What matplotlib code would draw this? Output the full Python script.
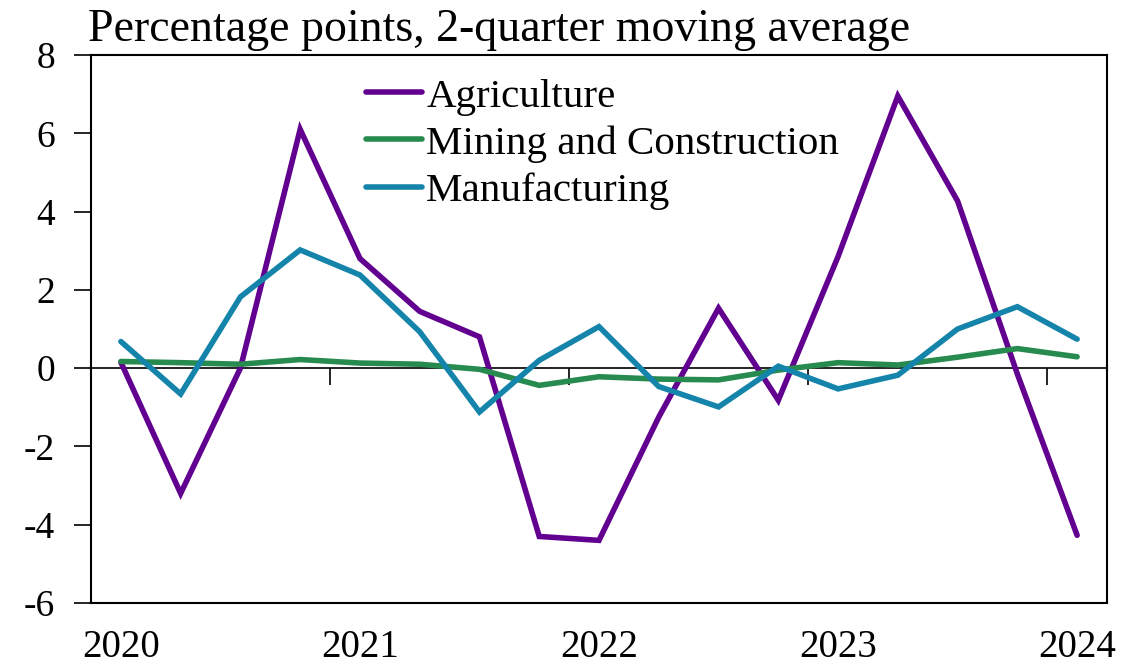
import matplotlib.pyplot as plt
import numpy as np

# quarterly, 2020 Q1 .. 2024 Q1
quarters = ['2020 Q1', '2020 Q2', '2020 Q3', '2020 Q4',
            '2021 Q1', '2021 Q2', '2021 Q3', '2021 Q4',
            '2022 Q1', '2022 Q2', '2022 Q3', '2022 Q4',
            '2023 Q1', '2023 Q2', '2023 Q3', '2023 Q4',
            '2024 Q1']
year_labels = ['2020', '2021', '2022', '2023', '2024']

agriculture = [0.15, -3.2, 0.0, 6.1, 2.8, 1.45, 0.8, -4.3, -4.4,
               -1.25, 1.53, -0.82, 2.85, 6.95, 4.27, -0.15, -4.27]
mining = [0.17, 0.14, 0.1, 0.22, 0.13, 0.1, -0.03, -0.44, -0.22,
          -0.28, -0.3, -0.05, 0.14, 0.08, 0.28, 0.5, 0.29]
manufacturing = [0.68, -0.66, 1.82, 3.02, 2.38, 0.93, -1.12, 0.2, 1.06,
                 -0.47, -0.99, 0.05, -0.53, -0.18, 1.0, 1.57, 0.74]

plt.rcParams['font.family'] = ['Liberation Serif', 'DejaVu Serif']
plt.rcParams['axes.unicode_minus'] = False

fig = plt.figure(figsize=(11.47, 6.69), dpi=100)
ax = fig.add_axes([91 / 1147, 66 / 669, 1016 / 1147, 548 / 669])

x = np.arange(len(quarters))
lw = 4.0
ax.plot(x, agriculture, color='#62008F', lw=lw, label='Agriculture',
        solid_capstyle='round', solid_joinstyle='miter')
ax.plot(x, mining, color='#278A4E', lw=lw, label='Mining and Construction',
        solid_capstyle='round', solid_joinstyle='miter')
ax.plot(x, manufacturing, color='#1584AA', lw=lw, label='Manufacturing',
        solid_capstyle='round', solid_joinstyle='miter')

ax.set_xlim(-0.5, len(quarters) - 0.5)
ax.set_ylim(-6, 8)
ax.set_yticks(np.arange(-6, 9, 2))
ax.tick_params(axis='y', direction='out', length=12, width=1.2,
               labelsize=27, pad=14)

# year labels under the frame, no tick marks there
ax.set_xticks(x[::4])
ax.set_xticklabels(year_labels)
ax.tick_params(axis='x', length=0, labelsize=28, pad=19)

# zero line with year-boundary ticks
zero_axis = ax.secondary_xaxis(6 / 14)
zero_axis.set_xticks(x[3::4] + 0.5)
zero_axis.tick_params(direction='out', length=12, width=1.2,
                      labelbottom=False)
zero_axis.spines['bottom'].set_linewidth(1.2)

for s in ax.spines.values():
    s.set_linewidth(1.5)

fig.text(88 / 1147, 1 - 41 / 669, 'Percentage points, 2-quarter moving average',
         fontsize=33, ha='left', va='baseline')

ax.legend(loc='upper left', bbox_to_anchor=(366 / 1147, 1 - 78 / 669),
          bbox_transform=fig.transFigure, frameon=False, fontsize=29.5,
          handlelength=1.37, handletextpad=0.1, labelspacing=0.23,
          borderpad=0, borderaxespad=0)

fig.savefig('out.png', dpi=100)
